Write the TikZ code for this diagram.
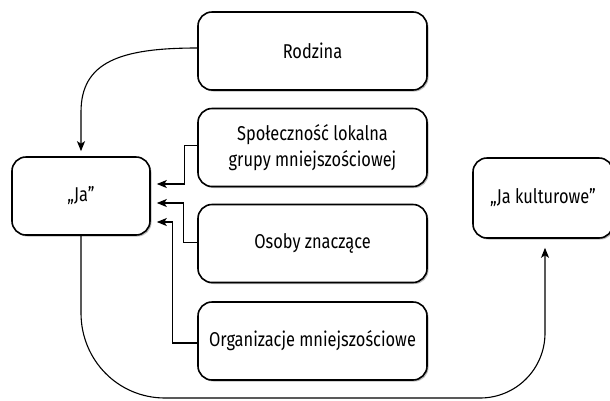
\documentclass[tikz,border=0pt]{standalone}
\usepackage{fontspec}
\setmainfont{Fira Sans}[FakeStretch=0.82]
\usetikzlibrary{arrows.meta,shadows}

\begin{document}
\begin{tikzpicture}[x=1pt,y=-1pt,>={Stealth[length=10pt,width=8pt,inset=2.5pt]},
  box/.style={draw,line width=1.6pt,rounded corners=14pt,fill=white,
    drop shadow={shadow xshift=1.5pt,shadow yshift=-1.5pt,opacity=0.45,fill=black!60},
    align=center,inner sep=0pt,minimum height=78pt,
    font=\fontsize{20}{26}\selectfont},
  link/.style={->,line width=1.1pt,shorten >=6pt}]
  \useasboundingbox (0,0) rectangle (610,400);
  % influence boxes, middle column
  \node[box,minimum width=229pt] (rodzina) at (312.5,51) {Rodzina};
  \node[box,minimum width=229pt] (spolecznosc) at (312.5,147.5)
    {Społeczność lokalna\\grupy mniejszościowej};
  \node[box,minimum width=229pt] (osoby) at (312.5,243.5) {Osoby znaczące};
  \node[box,minimum width=229pt] (organizacje) at (312.5,341)
    {Organizacje mniejszościowe};
  % the self and the cultural self
  \node[box,minimum width=138pt] (ja) at (81,196) {„Ja”};
  \node[box,minimum width=140pt,minimum height=80pt] (jakult) at (543,198)
    {„Ja kulturowe”};
  % family: curved arrow onto the top of the self
  \draw[link,shorten >=5pt] ([yshift=3pt]rodzina.west)
    .. controls (120,48) and (81,62) .. (81,112) -- (ja.north);
  % elbow arrows into the right side of the self
  \draw[link] ([yshift=2pt]spolecznosc.west) -- ++(-13,0) |- ([yshift=12pt]ja.east);
  \draw[link] ([yshift=1pt]osoby.west) -- ++(-14,0) |- ([yshift=-7pt]ja.east);
  \draw[link] ([yshift=-2pt]organizacje.west) -- ++(-25,0) |- ([yshift=-26pt]ja.east);
  % long U-shaped arrow from the self to the cultural self
  \draw[link,shorten >=9pt] (ja.south) -- (81,313)
    .. controls (81,360) and (118,398) .. (165,398) -- (480,398)
    .. controls (516,398) and (545,369) .. (545,333) -- ([xshift=2pt]jakult.south);
\end{tikzpicture}
\end{document}
